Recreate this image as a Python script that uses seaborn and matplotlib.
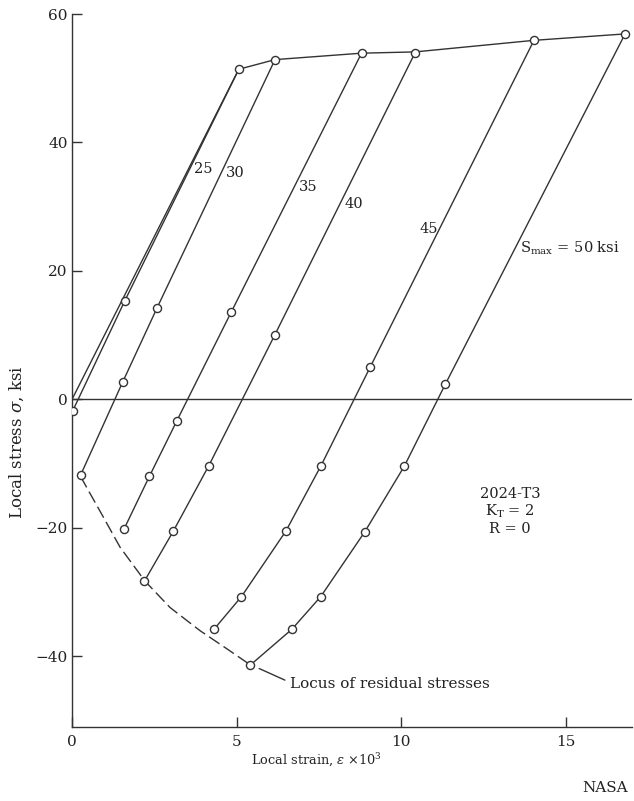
import matplotlib
matplotlib.use("Agg")
import matplotlib.pyplot as plt
import seaborn as sns
import pandas as pd

# ---- data (strain x10^3, stress ksi) ----
env_x = [0.0, 5.07, 6.17, 8.80, 10.43, 14.04, 16.81]
env_y = [0.0, 51.4, 52.9, 53.9, 54.1, 55.9, 56.9]

c25_x = [5.07, 1.60, 0.02]
c25_y = [51.4, 15.3, -1.8]
c30_x = [6.17, 2.59, 1.54, 0.26]
c30_y = [52.9, 14.3, 2.7, -11.8]
c35_x = [8.80, 4.84, 3.19, 2.35, 1.58]
c35_y = [53.9, 13.6, -3.3, -12.0, -20.2]
c40_x = [10.43, 6.17, 4.16, 3.08, 2.20]
c40_y = [54.0, 10.1, -10.3, -20.5, -28.3]
c45_x = [14.04, 9.06, 7.56, 6.50, 5.15, 4.33]
c45_y = [55.9, 5.0, -10.4, -20.5, -30.7, -35.7]
c50_x = [16.81, 11.35, 10.10, 8.90, 7.56, 6.68, 5.41]
c50_y = [56.9, 2.4, -10.4, -20.6, -30.7, -35.8, -41.4]

locus_x = [0.26, 0.50, 0.95, 1.46, 2.22, 2.98, 3.89, 4.70, 5.41]
locus_y = [-12.0, -14.2, -18.3, -23.0, -28.3, -32.4, -36.0, -38.8, -41.3]

smax_labels = ["25", "30", "35", "40", "45"]
label_x = [3.99, 4.95, 7.18, 8.55, 10.83]
label_y = [35.8, 35.2, 33.1, 30.4, 26.6]

x_ticks = [0, 5, 10, 15]
y_ticks = [-40, -20, 0, 20, 40, 60]

# ---- style ----
sns.set_style("ticks")
plt.rcParams["font.family"] = ["DejaVu Serif"]
plt.rcParams["mathtext.fontset"] = "dejavuserif"

LC = "#333333"
TC = "#222222"

fig = plt.figure(figsize=(6.34, 8.01), dpi=100)
ax = fig.add_axes([72 / 634, 1 - 727 / 801, 560 / 634, 713 / 801])

curves = [(c25_x, c25_y), (c30_x, c30_y), (c35_x, c35_y),
          (c40_x, c40_y), (c45_x, c45_y), (c50_x, c50_y)]

# envelope
sns.lineplot(x=env_x, y=env_y, sort=False, estimator=None, ax=ax,
             color=LC, lw=1.0)
for cx, cy in curves:
    sns.lineplot(x=cx, y=cy, sort=False, estimator=None, ax=ax,
                 color=LC, lw=1.0)

# locus of residual stresses (dashed)
sns.lineplot(x=locus_x, y=locus_y, sort=False, estimator=None, ax=ax,
             color=LC, lw=1.0, dashes=False, linestyle=(0, (9, 3.5)))

# markers
mk_x, mk_y = [], []
for cx, cy in curves:
    mk_x += cx
    mk_y += cy
mk = pd.DataFrame({"x": mk_x, "y": mk_y}).drop_duplicates()
sns.scatterplot(data=mk, x="x", y="y", ax=ax, marker="o", s=34,
                facecolor="white", edgecolor=LC, linewidth=1.0, zorder=5)

ax.axhline(0, color=LC, lw=1.0, zorder=1)

# annotations
for lab, lx, ly in zip(smax_labels, label_x, label_y):
    ax.text(lx, ly, lab, ha="center", va="center", fontsize=10.5, color=TC)
ax.text(13.62, 23.5, r"S$_{\mathregular{max}}$ = 50 ksi", ha="left",
        va="center", fontsize=10.5, color=TC)
ax.text(13.31, -17.4, "2024-T3\n" + r"K$_{\mathregular{T}}$ = 2" + "\nR = 0",
        ha="center", va="center", fontsize=10.5, color=TC, linespacing=1.15)
ax.plot([5.69, 6.47], [-41.9, -43.7], color=LC, lw=1.0)
ax.text(6.62, -44.3, "Locus of residual stresses", ha="left", va="center",
        fontsize=11, color=TC)

# axes
ax.set_xlim(0, 17.02)
ax.set_ylim(-51, 60)
ax.set_xticks(x_ticks)
ax.set_xticklabels([str(t) for t in x_ticks])
ax.set_yticks(y_ticks)
ax.set_yticklabels([("\u2212" + str(-t)) if t < 0 else str(t) for t in y_ticks])
ax.tick_params(axis="both", direction="in", length=7, width=1.0,
               colors=LC, labelcolor=TC, labelsize=11)
ax.tick_params(axis="x", pad=6)
ax.tick_params(axis="y", pad=3)
for s in ["top", "right"]:
    ax.spines[s].set_visible(False)
for s in ["left", "bottom"]:
    ax.spines[s].set_color(LC)
    ax.spines[s].set_linewidth(1.0)

ax.set_xlabel(r"Local strain, $\varepsilon$ $\times$10$^{3}$", fontsize=9.3,
              color=TC)
ax.xaxis.set_label_coords(0.437, -0.035)
ax.set_ylabel(r"Local stress $\sigma$, ksi", fontsize=12, color=TC)
ax.yaxis.set_label_coords(-0.083, 0.40)

fig.text(628 / 634, 1 - 788 / 801, "NASA", ha="right", va="center",
         fontsize=11, color=TC)

fig.savefig("out.png", dpi=100, facecolor="white")
